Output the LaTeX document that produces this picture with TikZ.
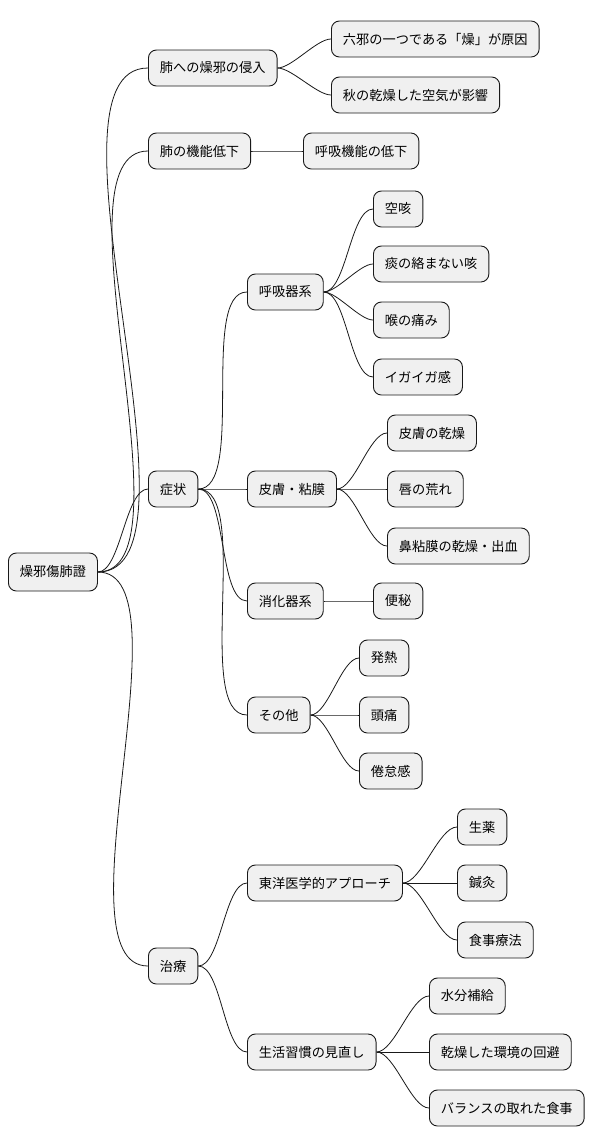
\documentclass[tikz,border=0pt]{standalone}
\usepackage{fontspec}
\setmainfont{Noto Sans CJK JP}
\begin{document}
\begin{tikzpicture}[x=1pt,y=-1pt,
  box/.style={draw=black!90,fill=black!6,rounded corners=8pt,line width=0.9pt,minimum height=36pt,inner xsep=11.5pt,anchor=west,font=\fontsize{13.2}{16}\selectfont},
  link/.style={draw=black!90,line width=0.8pt}]
\useasboundingbox (0,0) rectangle (600,1146);
\node[box,minimum height=38pt] (r) at (8,572) {燥邪傷肺證};
\node[box] (a) at (148,68) {肺への燥邪の侵入};
\node[box] (b) at (148,151) {肺の機能低下};
\node[box] (c) at (148,489) {症状};
\node[box] (d) at (148,966) {治療};
\node[box] (a1) at (331,39) {六邪の一つである「燥」が原因};
\node[box] (a2) at (331,95) {秋の乾燥した空気が影響};
\node[box] (b1) at (303,151) {呼吸機能の低下};
\node[box] (c1) at (247,292) {呼吸器系};
\node[box] (c2) at (247,489) {皮膚・粘膜};
\node[box] (c3) at (247,601) {消化器系};
\node[box] (c4) at (247,715) {その他};
\node[box] (c11) at (373,209) {空咳};
\node[box] (c12) at (373,264) {痰の絡まない咳};
\node[box] (c13) at (373,320) {喉の痛み};
\node[box] (c14) at (373,377) {イガイガ感};
\node[box] (c21) at (387,433) {皮膚の乾燥};
\node[box] (c22) at (387,489) {唇の荒れ};
\node[box] (c23) at (387,546) {鼻粘膜の乾燥・出血};
\node[box] (c31) at (373,601) {便秘};
\node[box] (c41) at (359,658) {発熱};
\node[box] (c42) at (359,715) {頭痛};
\node[box] (c43) at (359,771) {倦怠感};
\node[box] (d1) at (247,883) {東洋医学的アプローチ};
\node[box] (d2) at (247,1052) {生活習慣の見直し};
\node[box] (d11) at (457,827) {生薬};
\node[box] (d12) at (457,883) {鍼灸};
\node[box] (d13) at (457,940) {食事療法};
\node[box] (d21) at (429,996) {水分補給};
\node[box] (d22) at (429,1052) {乾燥した環境の回避};
\node[box] (d23) at (429,1108) {バランスの取れた食事};
\foreach \p/\c in {r/a,r/b,r/c,r/d,a/a1,a/a2,b/b1,c/c1,c/c2,c/c3,c/c4,c1/c11,c1/c12,c1/c13,c1/c14,c2/c21,c2/c22,c2/c23,c3/c31,c4/c41,c4/c42,c4/c43,d/d1,d/d2,d1/d11,d1/d12,d1/d13,d2/d21,d2/d22,d2/d23}
  \draw[link] (\p.east) to[out=0,in=180,looseness=0.6] (\c.west);
\end{tikzpicture}
\end{document}
